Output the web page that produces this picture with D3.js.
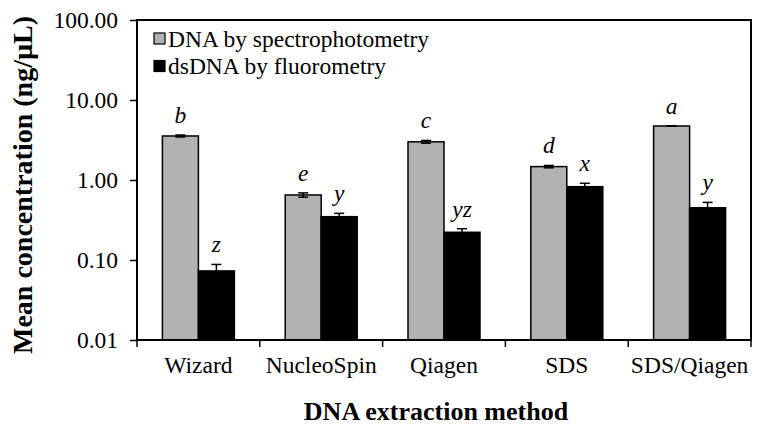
<!DOCTYPE html>
<html><head><meta charset="utf-8">
<script src="https://cdn.jsdelivr.net/npm/d3@7"></script>
<style>body{margin:0;background:#fff}svg{display:block}text{font-family:"Liberation Serif","Times New Roman",serif}</style>
</head><body>
<svg id="c" width="761" height="431"></svg>
<script>
const categories = ["Wizard","NucleoSpin","Qiagen","SDS","SDS/Qiagen"];
const seriesNames = ["DNA by spectrophotometry","dsDNA by fluorometry"];
const spectroValues = [3.55, 0.65, 3.0, 1.47, 4.73];
const spectroErrors = [0.1, 0.04, 0.12, 0.05, 0.03];
const spectroLetters = ["b","e","c","d","a"];
const fluoroValues = [0.073, 0.348, 0.222, 0.825, 0.45];
const fluoroErrors = [0.015, 0.035, 0.024, 0.085, 0.075];
const fluoroLetters = ["z","y","yz","x","y"];
const yTicks = [0.01, 0.1, 1, 10, 100];
const colors = ["#b2b2b2", "#000000"];

const FS = 23.5;
const svg = d3.select("#c");
const m = {l:137, r:751, t:20, b:340};
const x = d3.scaleBand().domain(categories).range([m.l, m.r]);
const xs = d3.scaleBand().domain([0,1]).range([0, 72]);
const y = d3.scaleLog().domain([0.01, 100]).range([m.b, m.t]);

const series = [
  {vals: spectroValues, errs: spectroErrors, letters: spectroLetters},
  {vals: fluoroValues, errs: fluoroErrors, letters: fluoroLetters}
];

series.forEach((s, si) => {
  const g = svg.append("g");
  categories.forEach((c, i) => {
    const bx = x(c) + x.bandwidth()/2 - 36 + xs(si);
    g.append("rect").attr("x", bx).attr("y", y(s.vals[i]))
      .attr("width", xs.bandwidth()).attr("height", m.b - y(s.vals[i]))
      .attr("fill", colors[si]).attr("stroke", "#000").attr("stroke-width", 1.5);
    const cx = bx + xs.bandwidth()/2;
    const hi = y(s.vals[i] + s.errs[i]), lo = y(s.vals[i] - s.errs[i]);
    g.append("line").attr("x1", cx).attr("x2", cx).attr("y1", hi).attr("y2", lo).attr("stroke","#000").attr("stroke-width",1.5);
    [hi, lo].forEach(yy => g.append("line").attr("x1", cx-5).attr("x2", cx+5).attr("y1", yy).attr("y2", yy).attr("stroke","#000").attr("stroke-width",1.5));
    g.append("text").attr("x", cx).attr("y", hi - 12).attr("text-anchor","middle")
      .attr("font-size", FS).attr("font-style","italic").text(s.letters[i]);
  });
});

const yAxis = d3.axisLeft(y).tickValues(yTicks).tickSize(7).tickPadding(12).tickFormat(d3.format(".2f"));
const ga = svg.append("g").attr("transform", `translate(${m.l},0)`).call(yAxis);
ga.attr("font-family", null);
ga.select(".domain").remove();
ga.selectAll("line").attr("stroke","#000").attr("stroke-width",1.5);
ga.selectAll("text").attr("font-size",FS).attr("fill","#000");

const xAxis = d3.axisBottom(x).tickSize(0).tickPadding(16);
const gx = svg.append("g").attr("transform", `translate(0,${m.b})`).call(xAxis);
gx.attr("font-family", null);
gx.select(".domain").remove();
gx.selectAll("text").attr("font-size",FS).attr("fill","#000");
const bounds = categories.map(c => x(c)).concat([x.range()[1]]);
svg.append("g").selectAll("line").data(bounds).join("line")
  .attr("x1", d=>d).attr("x2", d=>d).attr("y1", m.b).attr("y2", m.b+7)
  .attr("stroke","#000").attr("stroke-width",1.5);

svg.append("rect").attr("x", m.l).attr("y", m.t).attr("width", m.r-m.l).attr("height", m.b-m.t)
  .attr("fill","none").attr("stroke","#000").attr("stroke-width",2);

seriesNames.forEach((n, i) => {
  const cy = 38.5 + i*27.5;
  svg.append("rect").attr("x",154).attr("y",cy-5.5).attr("width",11).attr("height",11)
    .attr("fill",colors[i]).attr("stroke","#000").attr("stroke-width",1.2);
  svg.append("text").attr("x",168).attr("y",cy+8).attr("font-size",FS).text(n);
});

svg.append("text").attr("transform",`translate(32,185) rotate(-90)`)
  .attr("text-anchor","middle").attr("font-size",28).attr("font-weight","bold").text("Mean concentration (ng/µL)");
svg.append("text").attr("x",436).attr("y",420).attr("text-anchor","middle")
  .attr("font-size",26).attr("font-weight","bold").text("DNA extraction method");
</script>
</body></html>
